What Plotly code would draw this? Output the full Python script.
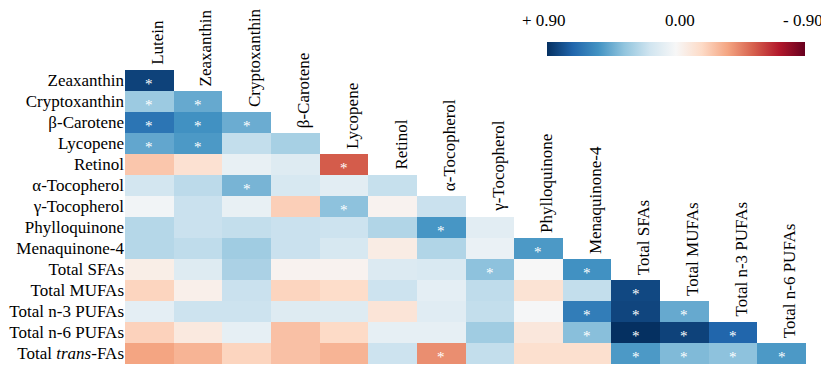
import plotly.graph_objects as go

rows = ["Zeaxanthin", "Cryptoxanthin", "β-Carotene", "Lycopene", "Retinol",
        "α-Tocopherol", "γ-Tocopherol", "Phylloquinone", "Menaquinone-4",
        "Total SFAs", "Total MUFAs", "Total n-3 PUFAs", "Total n-6 PUFAs",
        "Total <i>trans</i>-FAs"]
cols = ["Lutein", "Zeaxanthin", "Cryptoxanthin", "β-Carotene", "Lycopene",
        "Retinol", "α-Tocopherol", "γ-Tocopherol", "Phylloquinone",
        "Menaquinone-4", "Total SFAs", "Total MUFAs", "Total n-3 PUFAs",
        "Total n-6 PUFAs"]

# lower-triangular correlation coefficients (row i, columns 0..i)
r_zea = [0.84]
r_cry = [0.33, 0.46]
r_bca = [0.66, 0.55, 0.45]
r_lyc = [0.47, 0.52, 0.22, 0.30]
r_ret = [-0.25, -0.14, 0.07, 0.12, -0.55]
r_ato = [0.17, 0.24, 0.42, 0.15, 0.10, 0.21]
r_gto = [0.03, 0.20, 0.07, -0.22, 0.37, -0.03, 0.20]
r_phy = [0.26, 0.20, 0.22, 0.20, 0.19, 0.27, 0.53, 0.10]
r_men = [0.26, 0.23, 0.32, 0.20, 0.15, -0.07, 0.27, 0.06, 0.52]
r_sfa = [-0.06, 0.12, 0.29, -0.03, -0.03, 0.13, 0.14, 0.37, 0.00, 0.55]
r_mufa = [-0.20, -0.05, 0.20, -0.20, -0.17, 0.19, 0.09, 0.23, -0.13, 0.22, 0.82]
r_n3 = [0.09, 0.19, 0.19, 0.12, 0.12, -0.12, 0.11, 0.22, 0.01, 0.63, 0.83, 0.46]
r_n6 = [-0.21, -0.09, 0.08, -0.27, -0.18, 0.08, 0.08, 0.32, -0.10, 0.38, 0.90, 0.84, 0.72]
r_trans = [-0.36, -0.31, -0.20, -0.27, -0.31, 0.19, -0.42, 0.22, -0.15, -0.15, 0.52, 0.40, 0.37, 0.52]
values = [r_zea, r_cry, r_bca, r_lyc, r_ret, r_ato, r_gto, r_phy, r_men,
          r_sfa, r_mufa, r_n3, r_n6, r_trans]

# significance flags (1 = *)
s_zea = [1]
s_cry = [1, 1]
s_bca = [1, 1, 1]
s_lyc = [1, 1, 0, 0]
s_ret = [0, 0, 0, 0, 1]
s_ato = [0, 0, 1, 0, 0, 0]
s_gto = [0, 0, 0, 0, 1, 0, 0]
s_phy = [0, 0, 0, 0, 0, 0, 1, 0]
s_men = [0, 0, 0, 0, 0, 0, 0, 0, 1]
s_sfa = [0, 0, 0, 0, 0, 0, 0, 1, 0, 1]
s_mufa = [0, 0, 0, 0, 0, 0, 0, 0, 0, 0, 1]
s_n3 = [0, 0, 0, 0, 0, 0, 0, 0, 0, 1, 1, 1]
s_n6 = [0, 0, 0, 0, 0, 0, 0, 0, 0, 1, 1, 1, 1]
s_trans = [0, 0, 0, 0, 0, 0, 1, 0, 0, 0, 1, 1, 1, 1]
signif = [s_zea, s_cry, s_bca, s_lyc, s_ret, s_ato, s_gto, s_phy, s_men,
          s_sfa, s_mufa, s_n3, s_n6, s_trans]

cbar_labels = ["+ 0.90", "0.00", "- 0.90"]

n = len(cols)
z = []
hov = []
for i in range(len(rows)):
    rowz = []
    rowh = []
    for j in range(n):
        if j < len(values[i]):
            rowz.append(-values[i][j])   # so that +r sits at the left of the colour bar
            rowh.append(values[i][j])
        else:
            rowz.append(None)
            rowh.append(None)
    z.append(rowz)
    hov.append(rowh)

# ColorBrewer RdBu, blue (positive r) -> red (negative r)
rdbu = ['rgb(5,48,97)', 'rgb(33,102,172)', 'rgb(67,147,195)', 'rgb(146,197,222)',
        'rgb(209,229,240)', 'rgb(247,247,247)', 'rgb(253,219,199)', 'rgb(244,165,130)',
        'rgb(214,96,77)', 'rgb(178,24,43)', 'rgb(103,0,31)']
cscale = [[k / (len(rdbu) - 1), c] for k, c in enumerate(rdbu)]

# the page body has an 8px margin; figure sized to fill the rest of the window
OFF = 8
W, H = 829 - OFF, 378 - OFF
ml, mt = 125 - OFF, 70 - OFF
mr = W - (806 - OFF)
mb = H - (364 - OFF)
pw = W - ml - mr
ph = H - mt - mb

cb_left_px, cb_right_px = 547 - OFF, 805 - OFF
cb_bottom_px, cb_thick = 56 - OFF, 14

fig = go.Figure()
fig.add_trace(go.Heatmap(
    z=z, x=list(range(n)), y=list(range(len(rows))),
    customdata=hov,
    hovertemplate="r = %{customdata:.2f}<extra></extra>",
    colorscale=cscale, zmin=-0.9, zmax=0.9,
    xgap=0, ygap=0,
    colorbar=dict(
        orientation="h",
        x=(cb_left_px - ml) / pw, xanchor="left",
        y=1 + (mt - cb_bottom_px) / ph, yanchor="bottom",
        len=(cb_right_px - cb_left_px) / pw, lenmode="fraction",
        thickness=cb_thick, thicknessmode="pixels",
        xpad=0, ypad=0, outlinewidth=0,
        showticklabels=False, ticks="",
    ),
))

font_family = "Liberation Serif"
fsize = 17
annotations = []
for j, name in enumerate(cols):
    annotations.append(dict(
        x=j, y=j - 0.5, xref="x", yref="y", text=name, textangle=-90,
        showarrow=False, xanchor="center", yanchor="bottom",
        xshift=8, yshift=3,
        font=dict(family=font_family, size=fsize, color="black"),
    ))
for i in range(len(rows)):
    for j in range(len(signif[i])):
        if signif[i][j]:
            annotations.append(dict(
                x=j, y=i, xref="x", yref="y", text="*", showarrow=False,
                xanchor="center", yanchor="middle", yshift=-3,
                font=dict(family=font_family, size=15, color="white"),
            ))
lab_px = [cb_left_px - 3, (cb_left_px + cb_right_px) / 2 + 4, cb_right_px - 2]
for t, px in zip(cbar_labels, lab_px):
    annotations.append(dict(
        x=(px - ml) / pw, y=1 + (mt - (20 - OFF)) / ph, xref="paper", yref="paper",
        text=t, showarrow=False, xanchor="center", yanchor="middle",
        font=dict(family=font_family, size=fsize, color="black"),
    ))

fig.update_layout(
    width=W, height=H,
    margin=dict(l=ml, r=mr, t=mt, b=mb, pad=0, autoexpand=False),
    paper_bgcolor="white", plot_bgcolor="white",
    font=dict(family=font_family, size=fsize, color="black"),
    annotations=annotations,
    xaxis=dict(range=[-0.5, n - 0.5], showgrid=False, zeroline=False, automargin=False,
               showticklabels=False, ticks="", showline=False, fixedrange=True),
    yaxis=dict(range=[len(rows) - 0.5, -0.5], showgrid=False, zeroline=False,
               automargin=False,
               tickmode="array", tickvals=list(range(len(rows))), ticktext=rows,
               ticks="", showline=False,
               tickfont=dict(family=font_family, size=fsize, color="black")),
)

fig.write_html("out.html")
